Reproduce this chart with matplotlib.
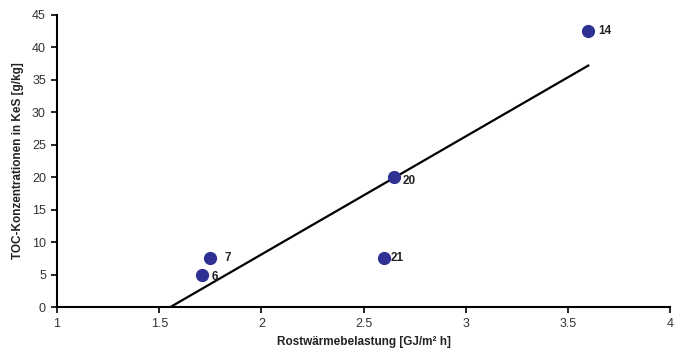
import matplotlib
matplotlib.use("Agg")
import matplotlib.pyplot as plt
import numpy as np

plt.rcParams["font.family"] = ["Liberation Sans", "DejaVu Sans"]

# Rostwärmebelastung [GJ/m² h] vs TOC [g/kg]
load = [1.71, 1.75, 2.60, 2.65, 3.60]
toc = [5.0, 7.5, 7.5, 20.0, 42.5]
labels = ["6", "7", "21", "20", "14"]
label_offsets = [(7, -2), (10, 0), (5, 0), (6, -2.5), (7, 0)]

xticks = [1, 1.5, 2, 2.5, 3, 3.5, 4]
xticklabels = ["1", "1.5", "2", "2.5", "3", "3.5", "4"]
yticks = list(range(0, 46, 5))

fig = plt.figure(figsize=(6.83, 3.56), dpi=100)
ax = fig.add_axes([0.0835, 0.1376, 0.8975, 0.8204])

# linear trendline
slope, intercept = np.polyfit(load, toc, 1)
xfit = np.array([1.563, max(load)])
ax.plot(xfit, slope * xfit + intercept, color="black", lw=1.6, clip_on=False, zorder=2)

ax.plot(load, toc, "o", color="#2E3192", markersize=8.5, zorder=3, clip_on=False)
for x, y, lab, off in zip(load, toc, labels, label_offsets):
    ax.annotate(lab, (x, y), xytext=off, textcoords="offset points",
                fontsize=8.5, fontweight="bold", color="#222222", va="center", ha="left")

ax.set_xlim(1, 4)
ax.set_ylim(0, 45)
ax.set_xticks(xticks)
ax.set_xticklabels(xticklabels)
ax.set_yticks(yticks)

for s in ["top", "right"]:
    ax.spines[s].set_visible(False)
for s in ["left", "bottom"]:
    ax.spines[s].set_linewidth(1.5)
ax.tick_params(axis="both", direction="out", length=4, width=1.2, labelsize=9,
               labelcolor="#333333", pad=4)

ax.set_xlabel("Rostwärmebelastung [GJ/m² h]", fontsize=8.5, fontweight="bold",
              color="#222222", labelpad=4)
ax.set_ylabel("TOC-Konzentrationen in KeS [g/kg]", fontsize=8.5, fontweight="bold",
              color="#222222", labelpad=6)

fig.savefig("out.png", dpi=100)
